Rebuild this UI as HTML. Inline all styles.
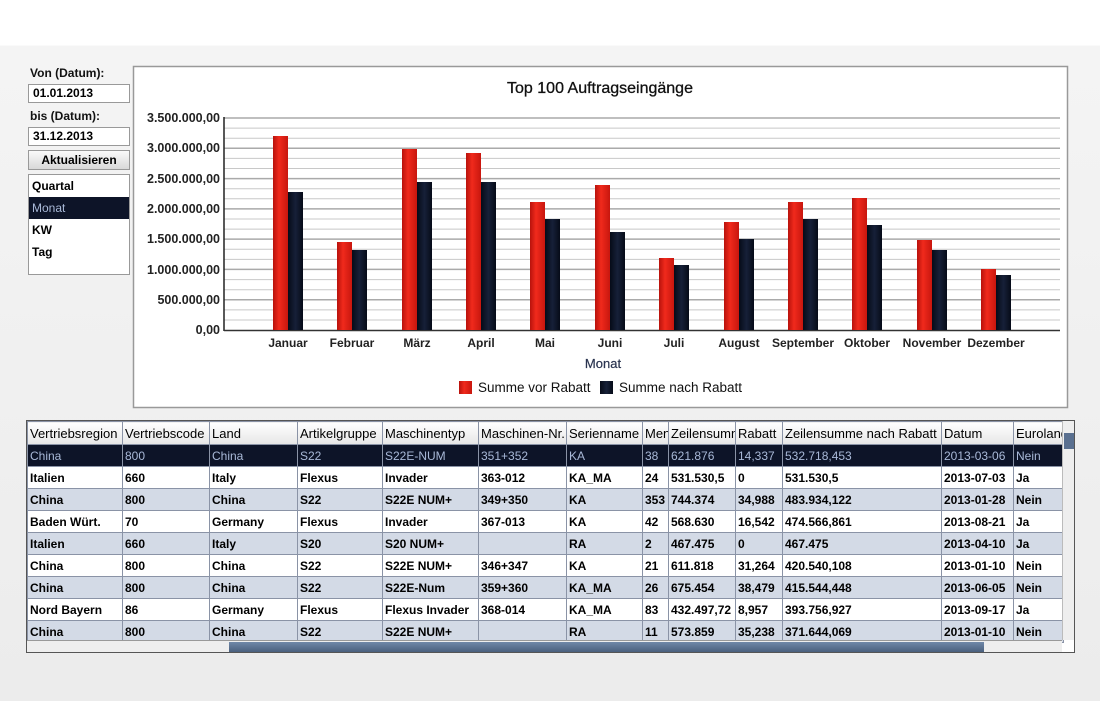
<!DOCTYPE html>
<html><head><meta charset="utf-8"><style>
body{margin:0;width:1100px;height:701px;background:linear-gradient(#fff 0,#fff 45px,#f4f4f4 46px,#ececec 701px);font-family:"Liberation Sans","DejaVu Sans",sans-serif;position:relative;overflow:hidden}
.a{position:absolute}
.lbl{font-size:12px;font-weight:bold;color:#111}
.inp{background:#fff;border:1px solid #999;font-size:12px;font-weight:bold;padding-left:4px;box-sizing:border-box;line-height:17px}
table{border-collapse:collapse;table-layout:fixed;font-size:12px;font-weight:bold}
td,th{border:1px solid #8a93a6;height:21px;padding:0 2px;white-space:nowrap;overflow:hidden;text-align:left}
th{font-weight:normal;font-size:13px;background:linear-gradient(#fff,#e6e6e6);color:#000;height:22px}
tr.s td{background:#0d1428;color:#a9b9d8;font-weight:normal}
tr.w td{background:#fff}
tr.g td{background:#d3dae6}
</style></head><body>
<div class="a lbl" style="left:30px;top:66px">Von (Datum):</div>
<div class="a inp" style="left:28px;top:84px;width:102px;height:19px">01.01.2013</div>
<div class="a lbl" style="left:30px;top:109px">bis (Datum):</div>
<div class="a inp" style="left:28px;top:127px;width:102px;height:19px">31.12.2013</div>
<div class="a" style="left:28px;top:150px;width:102px;height:20px;border:1px solid #999;box-sizing:border-box;background:linear-gradient(#fafafa,#d8d8d8);font-size:12px;font-weight:bold;text-align:center;line-height:18px">Aktualisieren</div>
<div class="a" style="left:28px;top:174px;width:102px;height:101px;border:1px solid #999;box-sizing:border-box;background:#fff;font-size:12px;font-weight:bold">
<div style="height:22px;line-height:22px;padding-left:3px">Quartal</div>
<div style="height:22px;line-height:22px;padding-left:3px;background:#0d1428;color:#a9b9d8;font-weight:normal">Monat</div>
<div style="height:22px;line-height:22px;padding-left:3px">KW</div>
<div style="height:22px;line-height:22px;padding-left:3px">Tag</div>
</div>
<svg class="a" style="left:0;top:0" width="1100" height="420">
<defs>
<linearGradient id="r" x1="0" x2="1"><stop offset="0" stop-color="#b8120c"/><stop offset=".4" stop-color="#f02a1c"/><stop offset="1" stop-color="#c8160e"/></linearGradient>
<linearGradient id="d" x1="0" x2="1"><stop offset="0" stop-color="#060b18"/><stop offset=".5" stop-color="#162038"/><stop offset="1" stop-color="#060b18"/></linearGradient>
</defs>
<rect x="133.5" y="66.5" width="934" height="341" fill="#fff" stroke="#999" stroke-width="1.5"/>
<text x="600" y="93" text-anchor="middle" font-size="16" font-family="Liberation Sans,sans-serif" fill="#111" stroke="#111" stroke-width="0.3">Top 100 Auftragseingänge</text>
<g stroke="#c8c8c8" stroke-width="1">
<line x1="224" y1="128.1" x2="1060" y2="128.1"/><line x1="224" y1="138.2" x2="1060" y2="138.2"/><line x1="224" y1="158.4" x2="1060" y2="158.4"/><line x1="224" y1="168.5" x2="1060" y2="168.5"/><line x1="224" y1="188.7" x2="1060" y2="188.7"/><line x1="224" y1="198.8" x2="1060" y2="198.8"/><line x1="224" y1="219" x2="1060" y2="219"/><line x1="224" y1="229.1" x2="1060" y2="229.1"/><line x1="224" y1="249.3" x2="1060" y2="249.3"/><line x1="224" y1="259.4" x2="1060" y2="259.4"/><line x1="224" y1="279.6" x2="1060" y2="279.6"/><line x1="224" y1="289.7" x2="1060" y2="289.7"/><line x1="224" y1="309.9" x2="1060" y2="309.9"/><line x1="224" y1="320" x2="1060" y2="320"/>
</g>
<g stroke="#aaa" stroke-width="1.5">
<line x1="224" y1="118" x2="1060" y2="118"/><line x1="224" y1="148.3" x2="1060" y2="148.3"/><line x1="224" y1="178.6" x2="1060" y2="178.6"/><line x1="224" y1="208.9" x2="1060" y2="208.9"/><line x1="224" y1="239.1" x2="1060" y2="239.1"/><line x1="224" y1="269.4" x2="1060" y2="269.4"/><line x1="224" y1="299.7" x2="1060" y2="299.7"/>
</g>
<line x1="224" y1="117" x2="224" y2="331" stroke="#222" stroke-width="1.5"/>
<line x1="224" y1="330.5" x2="1060" y2="330.5" stroke="#333" stroke-width="1.5"/>
<g font-size="12.5" font-weight="bold" font-family="Liberation Sans,sans-serif" fill="#222" text-anchor="end">
<text x="220" y="122">3.500.000,00</text><text x="220" y="152">3.000.000,00</text><text x="220" y="183">2.500.000,00</text><text x="220" y="213">2.000.000,00</text><text x="220" y="243">1.500.000,00</text><text x="220" y="274">1.000.000,00</text><text x="220" y="304">500.000,00</text><text x="220" y="334">0,00</text>
</g>
<g>
<rect x="273" y="136" width="15" height="194" fill="url(#r)"/><rect x="288" y="192" width="15" height="138" fill="url(#d)"/>
<rect x="337" y="242" width="15" height="88" fill="url(#r)"/><rect x="352" y="250" width="15" height="80" fill="url(#d)"/>
<rect x="402" y="149" width="15" height="181" fill="url(#r)"/><rect x="417" y="182" width="15" height="148" fill="url(#d)"/>
<rect x="466" y="153" width="15" height="177" fill="url(#r)"/><rect x="481" y="182" width="15" height="148" fill="url(#d)"/>
<rect x="530" y="202" width="15" height="128" fill="url(#r)"/><rect x="545" y="219" width="15" height="111" fill="url(#d)"/>
<rect x="595" y="185" width="15" height="145" fill="url(#r)"/><rect x="610" y="232" width="15" height="98" fill="url(#d)"/>
<rect x="659" y="258" width="15" height="72" fill="url(#r)"/><rect x="674" y="265" width="15" height="65" fill="url(#d)"/>
<rect x="724" y="222" width="15" height="108" fill="url(#r)"/><rect x="739" y="239" width="15" height="91" fill="url(#d)"/>
<rect x="788" y="202" width="15" height="128" fill="url(#r)"/><rect x="803" y="219" width="15" height="111" fill="url(#d)"/>
<rect x="852" y="198" width="15" height="132" fill="url(#r)"/><rect x="867" y="225" width="15" height="105" fill="url(#d)"/>
<rect x="917" y="240" width="15" height="90" fill="url(#r)"/><rect x="932" y="250" width="15" height="80" fill="url(#d)"/>
<rect x="981" y="269" width="15" height="61" fill="url(#r)"/><rect x="996" y="275" width="15" height="55" fill="url(#d)"/>
</g>
<g font-size="12" font-weight="bold" font-family="Liberation Sans,sans-serif" fill="#222" text-anchor="middle">
<text x="288" y="347">Januar</text><text x="352" y="347">Februar</text><text x="417" y="347">März</text><text x="481" y="347">April</text><text x="545" y="347">Mai</text><text x="610" y="347">Juni</text><text x="674" y="347">Juli</text><text x="739" y="347">August</text><text x="803" y="347">September</text><text x="867" y="347">Oktober</text><text x="932" y="347">November</text><text x="996" y="347">Dezember</text>
</g>
<text x="603" y="368" text-anchor="middle" font-size="13" font-family="Liberation Sans,sans-serif" fill="#2a3450" stroke="#2a3450" stroke-width="0.2">Monat</text>
<rect x="459" y="381" width="13" height="13" fill="url(#r)"/>
<text x="478" y="392" font-size="13.5" font-family="Liberation Sans,sans-serif" fill="#111">Summe vor Rabatt</text>
<rect x="600" y="381" width="13" height="13" fill="url(#d)"/>
<text x="619" y="392" font-size="13.5" font-family="Liberation Sans,sans-serif" fill="#111">Summe nach Rabatt</text>
</svg>
<div class="a" style="left:26px;top:420px;width:1049px;height:233px;border:1px solid #555;box-sizing:border-box;background:#fff;overflow:hidden">
<table style="width:1036px">
<colgroup><col style="width:95px"><col style="width:87px"><col style="width:88px"><col style="width:85px"><col style="width:96px"><col style="width:88px"><col style="width:76px"><col style="width:26px"><col style="width:67px"><col style="width:47px"><col style="width:159px"><col style="width:72px"><col style="width:50px"></colgroup>
<tr><th>Vertriebsregion</th><th>Vertriebscode</th><th>Land</th><th>Artikelgruppe</th><th>Maschinentyp</th><th>Maschinen-Nr.</th><th>Serienname</th><th>Menge</th><th>Zeilensumme</th><th>Rabatt</th><th>Zeilensumme nach Rabatt</th><th>Datum</th><th>Euroland</th></tr>
<tr class="s"><td>China</td><td>800</td><td>China</td><td>S22</td><td>S22E-NUM</td><td>351+352</td><td>KA</td><td>38</td><td>621.876</td><td>14,337</td><td>532.718,453</td><td>2013-03-06</td><td>Nein</td></tr>
<tr class="w"><td>Italien</td><td>660</td><td>Italy</td><td>Flexus</td><td>Invader</td><td>363-012</td><td>KA_MA</td><td>24</td><td>531.530,5</td><td>0</td><td>531.530,5</td><td>2013-07-03</td><td>Ja</td></tr>
<tr class="g"><td>China</td><td>800</td><td>China</td><td>S22</td><td>S22E NUM+</td><td>349+350</td><td>KA</td><td>353</td><td>744.374</td><td>34,988</td><td>483.934,122</td><td>2013-01-28</td><td>Nein</td></tr>
<tr class="w"><td>Baden Würt.</td><td>70</td><td>Germany</td><td>Flexus</td><td>Invader</td><td>367-013</td><td>KA</td><td>42</td><td>568.630</td><td>16,542</td><td>474.566,861</td><td>2013-08-21</td><td>Ja</td></tr>
<tr class="g"><td>Italien</td><td>660</td><td>Italy</td><td>S20</td><td>S20 NUM+</td><td></td><td>RA</td><td>2</td><td>467.475</td><td>0</td><td>467.475</td><td>2013-04-10</td><td>Ja</td></tr>
<tr class="w"><td>China</td><td>800</td><td>China</td><td>S22</td><td>S22E NUM+</td><td>346+347</td><td>KA</td><td>21</td><td>611.818</td><td>31,264</td><td>420.540,108</td><td>2013-01-10</td><td>Nein</td></tr>
<tr class="g"><td>China</td><td>800</td><td>China</td><td>S22</td><td>S22E-Num</td><td>359+360</td><td>KA_MA</td><td>26</td><td>675.454</td><td>38,479</td><td>415.544,448</td><td>2013-06-05</td><td>Nein</td></tr>
<tr class="w"><td>Nord Bayern</td><td>86</td><td>Germany</td><td>Flexus</td><td>Flexus Invader</td><td>368-014</td><td>KA_MA</td><td>83</td><td>432.497,72</td><td>8,957</td><td>393.756,927</td><td>2013-09-17</td><td>Ja</td></tr>
<tr class="g"><td>China</td><td>800</td><td>China</td><td>S22</td><td>S22E NUM+</td><td></td><td>RA</td><td>11</td><td>573.859</td><td>35,238</td><td>371.644,069</td><td>2013-01-10</td><td>Nein</td></tr>
</table>
<div class="a" style="left:1035px;top:0;width:13px;height:219px;background:#eee;border-left:1px solid #bbb"><div style="position:absolute;top:12px;left:1px;width:11px;height:16px;background:#5a7090"></div></div>
<div class="a" style="left:0;top:219px;width:1035px;height:13px;background:#eee;border-top:1px solid #999"><div style="position:absolute;left:202px;top:1px;width:755px;height:10px;background:linear-gradient(#7088a8,#4a607e)"></div></div>
</div>
</body></html>
